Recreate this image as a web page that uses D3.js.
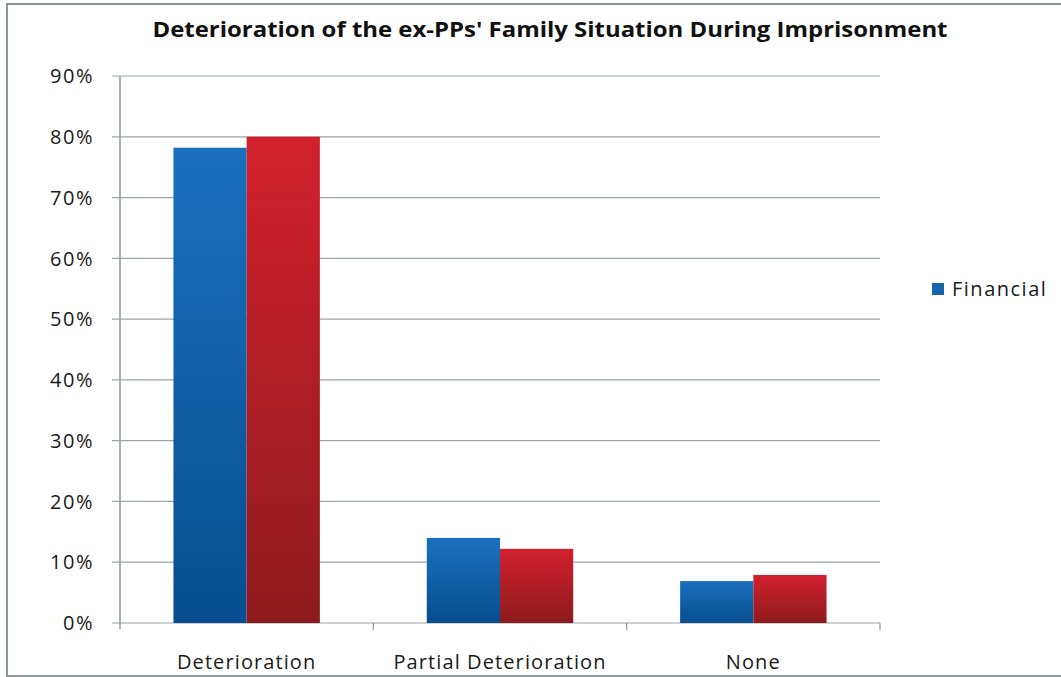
<!DOCTYPE html>
<html><head><meta charset="utf-8">
<script src="https://cdn.jsdelivr.net/npm/d3@7"></script>
<style>body{margin:0;background:#fff;}svg{display:block;}</style>
</head><body>
<script>
const categories = ["Deterioration", "Partial Deterioration", "None"];
const financial = [78.2, 14.0, 6.9];
const otherSeries = [80.0, 12.2, 7.9];
const yTicks = [0, 10, 20, 30, 40, 50, 60, 70, 80, 90];
const titleText = "Deterioration of the ex-PPs' Family Situation During Imprisonment";
const legendLabels = ["Financial"];

const W = 1061, H = 677;
const svg = d3.select("body").append("svg").attr("width", W).attr("height", H);
const defs = svg.append("defs");
function grad(id, top, bot) {
  const g = defs.append("linearGradient").attr("id", id).attr("x1", 0).attr("y1", 0).attr("x2", 0).attr("y2", 1);
  g.append("stop").attr("offset", "0%").attr("stop-color", top);
  g.append("stop").attr("offset", "100%").attr("stop-color", bot);
}
grad("gBlue", "#1a70be", "#074d8f");
grad("gRed", "#d2202e", "#8d1b1d");

svg.append("rect").attr("x", 7).attr("y", 4).attr("width", 1060).attr("height", 672)
  .attr("fill", "#fff").attr("stroke", "#8c9898").attr("stroke-width", 2);

const margin = {left: 120, right: 880, top: 76, bottom: 623};
const font = "'Open Sans', 'DejaVu Sans', sans-serif";

const y = d3.scaleLinear().domain([0, 90]).range([margin.bottom, margin.top]);
const x = d3.scaleBand().domain(categories).range([margin.left, margin.right]).paddingInner(0).paddingOuter(0);
const inner = d3.scaleBand().domain([0, 1]).range([0, x.bandwidth()]).paddingInner(0).paddingOuter(0.73);

// gridlines
svg.append("g").selectAll("line").data(yTicks).join("line")
  .attr("x1", margin.left - 8).attr("x2", margin.right)
  .attr("y1", d => y(d)).attr("y2", d => y(d))
  .attr("stroke", "#9aa4a8").attr("stroke-width", 1.2);

// y axis labels
svg.append("g").selectAll("text").data(yTicks).join("text")
  .attr("x", 94).attr("y", d => y(d)).attr("dy", "0.36em")
  .attr("text-anchor", "end").attr("font-family", font).attr("font-size", 20)
  .attr("letter-spacing", 1.5).attr("fill", "#1a1a1a")
  .text(d => d + "%");

// axis line
svg.append("line").attr("x1", margin.left).attr("x2", margin.left)
  .attr("y1", margin.top).attr("y2", margin.bottom + 6).attr("stroke", "#8c9898").attr("stroke-width", 1.5);

// x ticks at category boundaries
const bounds = categories.map(c => x(c)).concat([margin.right]);
svg.append("g").selectAll("line").data(bounds.slice(1)).join("line")
  .attr("x1", d => d).attr("x2", d => d).attr("y1", margin.bottom).attr("y2", margin.bottom + 7)
  .attr("stroke", "#8c9898").attr("stroke-width", 1.2);

// bars
const series = [{vals: financial, fill: "url(#gBlue)"}, {vals: otherSeries, fill: "url(#gRed)"}];
series.forEach((s, si) => {
  svg.append("g").selectAll("rect").data(categories).join("rect")
    .attr("x", c => x(c) + inner(si))
    .attr("width", inner.bandwidth())
    .attr("y", (c, i) => y(s.vals[i]))
    .attr("height", (c, i) => y(0) - y(s.vals[i]))
    .attr("fill", s.fill);
});

// category labels
svg.append("g").selectAll("text").data(categories).join("text")
  .attr("x", c => x(c) + x.bandwidth() / 2).attr("y", 669)
  .attr("text-anchor", "middle").attr("font-family", font).attr("font-size", 20)
  .attr("letter-spacing", 1.1).attr("fill", "#1a1a1a")
  .text(c => c);

// title
svg.append("text").attr("x", 550).attr("y", 37).attr("text-anchor", "middle")
  .attr("font-family", font).attr("font-weight", "bold").attr("font-size", 22).attr("fill", "#111")
  .attr("textLength", 795).attr("lengthAdjust", "spacingAndGlyphs")
  .text(titleText);

// legend
const lg = svg.append("g").attr("transform", "translate(932,283)");
lg.selectAll("rect").data(legendLabels).join("rect")
  .attr("x", 0).attr("y", (d, i) => i * 24).attr("width", 12).attr("height", 12).attr("fill", "#1565b0");
lg.selectAll("text").data(legendLabels).join("text")
  .attr("x", 20).attr("y", (d, i) => i * 24 + 6).attr("dy", "0.36em")
  .attr("font-family", font).attr("font-size", 20).attr("letter-spacing", 1.5).attr("fill", "#1a1a1a")
  .text(d => d);
</script>
</body></html>
